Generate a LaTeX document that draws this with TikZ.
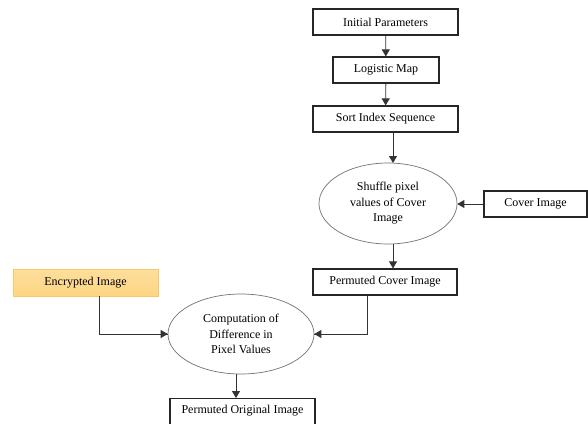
\documentclass[tikz,border=0pt]{standalone}
\usepackage{fontspec}
\setmainfont{Liberation Serif}
\usetikzlibrary{arrows.meta,shapes.geometric}
\definecolor{encfill}{HTML}{FDD683}
\definecolor{encdraw}{HTML}{F6C867}
\begin{document}
\begin{tikzpicture}[x=1pt,y=-1pt,
  box/.style={draw=black!85,line width=1.2pt,rectangle,inner sep=0pt,font=\fontsize{12}{14}\selectfont},
  oval/.style={draw=black!55,line width=0.7pt,ellipse,inner sep=0pt,align=center,font=\fontsize{12}{15.5}\selectfont},
  arr/.style={draw=black!80,line width=0.8pt,-{Triangle[length=7pt,width=8pt]}},
  ln/.style={draw=black!80,line width=0.8pt}]
\clip (0,0) rectangle (588,423);
\fill[white] (0,0) rectangle (588,423);
\node[box,minimum width=145,minimum height=26] (ip) at (385.5,22) {Initial Parameters};
\node[box,minimum width=106,minimum height=26] (lm) at (386,70) {Logistic Map};
\node[box,minimum width=145,minimum height=26] (si) at (385.5,119) {Sort Index Sequence};
\node[oval,minimum width=138,minimum height=81] (sh) at (388,203.5) {Shuffle pixel\\values of Cover\\Image};
\node[box,minimum width=103,minimum height=26] (ci) at (535.5,204) {Cover Image};
\node[box,minimum width=144,minimum height=26] (pc) at (385,282) {Permuted Cover Image};
\node[rectangle,draw=encdraw,line width=0.6pt,top color=encfill!80!white,bottom color=encfill,minimum width=145,minimum height=27,inner sep=0pt,font=\fontsize{12}{14}\selectfont] (ei) at (85.5,282.5) {Encrypted Image};
\node[oval,minimum width=146,minimum height=80] (cd) at (241,334) {Computation of\\Difference in\\Pixel Values};
\node[box,minimum width=145,minimum height=34,anchor=north] (po) at (242.5,398) {};
\node[font=\fontsize{12}{14}\selectfont] (pot) at (242.5,411) {Permuted Original Image};
\draw[arr] (ip) -- (lm);
\draw[arr] (lm) -- (si);
\draw[arr] (si.south -| 393,0) -- (393,163);
\draw[arr] (ci) -- (sh.east |- ci);
\draw[arr] (393,244) -- (pc.north -| 393,0);
\draw[ln] (ei.south -| 99,0) |- (cd.west);
\draw[arr] (164,334) -- (cd.west);
\draw[ln] (pc.south -| 367,0) |- (cd.east);
\draw[arr] (318,334) -- (cd.east);
\draw[arr] (cd.south -| 236,0) -- (po.north -| 236,0);
\end{tikzpicture}
\end{document}
